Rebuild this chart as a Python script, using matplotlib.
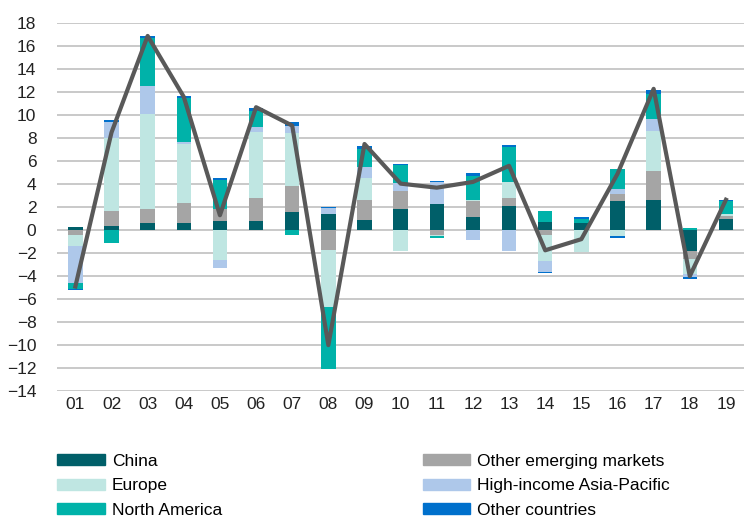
import matplotlib
matplotlib.use("Agg")
import matplotlib.pyplot as plt
from matplotlib.patches import Patch
import numpy as np

plt.rcParams["font.family"] = ["Liberation Sans", "DejaVu Sans"]

periods = ["01", "02", "03", "04", "05", "06", "07", "08", "09", "10",
           "11", "12", "13", "14", "15", "16", "17", "18", "19"]

china = [0.3, 0.35, 0.65, 0.65, 0.8, 0.8, 1.55, 1.45, 0.85, 1.85,
         2.25, 1.15, 2.1, 0.7, 0.6, 2.5, 2.6, -1.8, 1.0]
other_em = [-0.45, 1.35, 1.15, 1.7, 1.0, 2.0, 2.3, -1.7, 1.75, 1.6,
            -0.45, 1.35, 0.7, -0.45, 0.0, 0.65, 2.55, -0.75, 0.25]
europe = [-0.95, 6.3, 8.3, 5.15, -2.6, 5.75, 4.6, -5.0, 1.95, -1.8,
          -0.05, 0.1, 1.35, -2.25, -1.9, -0.5, 3.5, -1.3, 0.15]
hi_asia = [-3.2, 1.45, 2.45, 0.2, -0.65, 0.4, 0.65, 0.45, 0.95, 0.65,
           1.95, -0.85, -1.8, -0.95, 0.0, 0.45, 1.0, -0.25, 0.0]
north_am = [-0.5, -1.15, 4.15, 3.8, 2.55, 1.4, -0.45, -5.35, 1.6, 1.6,
            -0.15, 2.1, 3.05, 1.0, 0.4, 1.75, 2.2, 0.15, 1.15]
other = [-0.1, 0.15, 0.2, 0.2, 0.15, 0.25, 0.3, 0.15, 0.25, 0.1,
         0.1, 0.3, 0.2, -0.1, 0.15, -0.15, 0.35, -0.15, 0.1]
total = [-4.9, 8.5, 16.9, 11.6, 1.3, 10.7, 9.1, -10.0, 7.5, 4.05,
         3.7, 4.2, 5.6, -1.75, -0.78, 4.9, 12.3, -4.0, 2.65]

series = [
    ("China", china, "#005F69"),
    ("Other emerging markets", other_em, "#A5A5A5"),
    ("Europe", europe, "#BFE6E2"),
    ("High-income Asia-Pacific", hi_asia, "#AEC8EA"),
    ("North America", north_am, "#00B2A9"),
    ("Other countries", other, "#0070CC"),
]

fig = plt.figure(figsize=(7.44, 5.18), dpi=100)
ax = fig.add_axes([0.077, 0.245, 0.923, 0.71])

x = np.arange(len(periods))
pos_base = np.zeros(len(periods))
neg_base = np.zeros(len(periods))
for name, vals, col in series:
    v = np.array(vals)
    base = np.where(v >= 0, pos_base, neg_base)
    ax.bar(x, v, 0.4, bottom=base, color=col, zorder=2)
    pos_base += np.where(v >= 0, v, 0)
    neg_base += np.where(v < 0, v, 0)

ax.plot(x, total, color="#595959", lw=3, zorder=3)

ax.set_xlim(-0.5, len(periods) - 0.5)
ax.set_ylim(-14, 18)
ax.set_yticks(range(-14, 19, 2))
ax.set_xticks(x)
ax.set_xticklabels(periods)
ax.yaxis.grid(True, color="#C0C0C0", lw=1.2, zorder=0)
ax.set_axisbelow(True)
for s in ax.spines.values():
    s.set_visible(False)
ax.tick_params(axis="both", length=0, labelsize=12.5, colors="#222222")
ax.tick_params(axis="y", pad=15)
ax.tick_params(axis="x", pad=4)

handles = [Patch(color=c, label=n) for n, _, c in series]
kw = dict(frameon=False, fontsize=12.5, handlelength=2.75, handleheight=0.6,
          labelspacing=0.55, handletextpad=0.4, borderaxespad=0, borderpad=0)
fig.legend(handles=[handles[0], handles[2], handles[4]], loc="upper left",
           bbox_to_anchor=(0.077, 0.124), **kw)
fig.legend(handles=[handles[1], handles[3], handles[5]], loc="upper left",
           bbox_to_anchor=(0.568, 0.124), **kw)

fig.savefig("out.png", dpi=100)
